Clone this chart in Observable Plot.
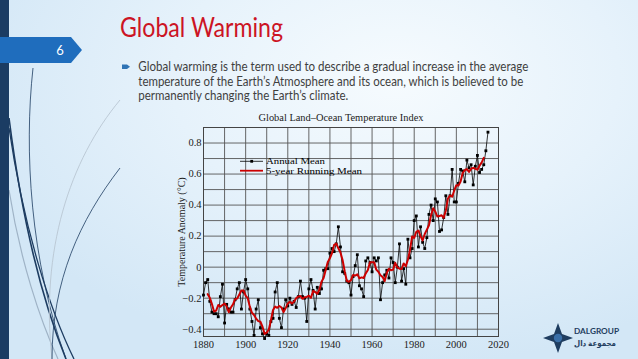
<!DOCTYPE html>
<html>
<head>
<meta charset="utf-8">
<script src="https://cdn.jsdelivr.net/npm/d3@7"></script>
<script src="https://cdn.jsdelivr.net/npm/@observablehq/plot@0.6"></script>
<style>
  html, body { margin: 0; padding: 0; }
  body { width: 638px; height: 359px; overflow: hidden; }
  #slide { position: relative; width: 638px; height: 359px; overflow: hidden;
    background: radial-gradient(ellipse 70% 80% at 62% 22%, #f6fbfe 0%, #e6f2fb 50%, #d3e7f6 100%); }
  #bg, #overlay { position: absolute; left: 0; top: 0; }
  #chart { position: absolute; left: 160px; top: 110px; }
  #overlay { pointer-events: none; }
</style>
</head>
<body>
<div id="slide">
  <svg id="bg" width="638" height="359" viewBox="0 0 638 359">
    <!-- decorative curves -->
    <path d="M33,68 C24,150 30,260 66,359" fill="none" stroke="#1d3c61" stroke-width="0.8"/>
    <path d="M9,118 C22,220 42,300 66,359" fill="none" stroke="#1d3c61" stroke-width="1.6"/>
    <path d="M9,128 C24,230 50,310 74,359" fill="none" stroke="#1d3c61" stroke-width="1.3"/>
    <path d="M9,190 C20,260 40,320 58,359" fill="none" stroke="#9fb3c6" stroke-width="1.2"/>
    <path d="M120,100 C70,160 40,250 52,359" fill="none" stroke="#b9c6d2" stroke-width="0.9"/>
    <path d="M120,168 C80,220 52,280 52,359" fill="none" stroke="#1d3c61" stroke-width="0.8"/>
    <!-- left bar -->
    <rect x="0" y="0" width="9" height="359" fill="#1b3c63"/>
    <!-- page tab -->
    <polygon points="0,37 71,37 82,50 71,63 0,63" fill="#1f6dbd"/>
    <text x="60" y="54.5" fill="#ffffff" font-family="Lato, 'Open Sans', sans-serif" font-size="13" text-anchor="middle">6</text>
    <!-- title -->
    <text x="120" y="37.3" fill="#cc1424" font-family="Lato, 'Open Sans', sans-serif" font-size="26" textLength="163" lengthAdjust="spacingAndGlyphs">Global Warming</text>
    <!-- bullet -->
    <polygon points="122,64.5 127,64.5 130,66.8 127,69 122,69" fill="#2f74b5"/>
    <g fill="#3f3f3f" font-family="Lato, 'Open Sans', sans-serif" font-size="12.5">
      <text x="138.3" y="70.8" textLength="390" lengthAdjust="spacingAndGlyphs">Global warming is the term used to describe a gradual increase in the average</text>
      <text x="138.3" y="85.6" textLength="385" lengthAdjust="spacingAndGlyphs">temperature of the Earth’s Atmosphere and its ocean, which is believed to be</text>
      <text x="138.3" y="100" textLength="210" lengthAdjust="spacingAndGlyphs">permanently changing the Earth’s climate.</text>
    </g>
    <!-- logo -->
    <g fill="#1f3d60">
      <polygon points="558,323 562,334 573,338 562,342 558,353 554,342 543,338 554,334"/>
      <circle cx="558" cy="338" r="4.2" fill="#3a6fa8"/>
      <text x="574" y="333.5" font-family="Lato, 'Open Sans', sans-serif" font-size="8" font-weight="bold" textLength="45" lengthAdjust="spacingAndGlyphs">DALGROUP</text>
      <text x="574" y="346" font-family="'Noto Sans', 'DejaVu Sans', sans-serif" font-size="8" font-weight="bold" textLength="42" lengthAdjust="spacingAndGlyphs">مجموعة دال</text>
    </g>
  </svg>
  <div id="chart"></div>
  <svg id="overlay" width="638" height="359" viewBox="0 0 638 359">
    <text x="341" y="121" fill="#222" font-family="'Liberation Serif', serif" font-size="10.5" text-anchor="middle" textLength="165" lengthAdjust="spacingAndGlyphs">Global Land–Ocean Temperature Index</text>
    <line x1="240" y1="161.3" x2="263" y2="161.3" stroke="#000" stroke-width="0.8"/>
    <rect x="250.3" y="159.9" width="2.8" height="2.8" fill="#000"/>
    <text x="266" y="164.3" fill="#000" font-family="'Liberation Serif', serif" font-size="9" textLength="59" lengthAdjust="spacingAndGlyphs">Annual Mean</text>
    <line x1="240" y1="170.7" x2="263" y2="170.7" stroke="#cc0000" stroke-width="1.8"/>
    <text x="266" y="173.6" fill="#000" font-family="'Liberation Serif', serif" font-size="9" textLength="96" lengthAdjust="spacingAndGlyphs">5-year Running Mean</text>
  </svg>
</div>
<script>
// ---- data ----
const years = [
  1880,1881,1882,1883,1884,1885,1886,1887,1888,1889,
  1890,1891,1892,1893,1894,1895,1896,1897,1898,1899,
  1900,1901,1902,1903,1904,1905,1906,1907,1908,1909,
  1910,1911,1912,1913,1914,1915,1916,1917,1918,1919,
  1920,1921,1922,1923,1924,1925,1926,1927,1928,1929,
  1930,1931,1932,1933,1934,1935,1936,1937,1938,1939,
  1940,1941,1942,1943,1944,1945,1946,1947,1948,1949,
  1950,1951,1952,1953,1954,1955,1956,1957,1958,1959,
  1960,1961,1962,1963,1964,1965,1966,1967,1968,1969,
  1970,1971,1972,1973,1974,1975,1976,1977,1978,1979,
  1980,1981,1982,1983,1984,1985,1986,1987,1988,1989,
  1990,1991,1992,1993,1994,1995,1996,1997,1998,1999,
  2000,2001,2002,2003,2004,2005,2006,2007,2008,2009,
  2010,2011,2012,2013,2014,2015
];
const annualMean = [
  -0.18,-0.10,-0.08,-0.22,-0.29,-0.30,-0.30,-0.32,-0.19,-0.11,
  -0.36,-0.24,-0.27,-0.29,-0.29,-0.21,-0.14,-0.10,-0.27,-0.16,
  -0.08,-0.14,-0.27,-0.35,-0.44,-0.27,-0.21,-0.39,-0.43,-0.46,
  -0.43,-0.44,-0.35,-0.33,-0.16,-0.10,-0.33,-0.39,-0.27,-0.21,
  -0.25,-0.20,-0.24,-0.22,-0.26,-0.19,-0.09,-0.19,-0.20,-0.35,
  -0.14,-0.08,-0.15,-0.27,-0.13,-0.17,-0.14,-0.02,-0.01,-0.01,
   0.09, 0.12, 0.10, 0.15, 0.26, 0.13,-0.03,-0.04,-0.09,-0.10,
  -0.18,-0.06, 0.01, 0.08,-0.12,-0.14,-0.19, 0.04, 0.06, 0.03,
  -0.03, 0.06, 0.04, 0.06,-0.21,-0.10,-0.05,-0.02,-0.07, 0.06,
   0.03,-0.10, 0.00, 0.15,-0.09,-0.01,-0.11, 0.18, 0.06, 0.12,
   0.30, 0.33, 0.13, 0.26, 0.16, 0.12, 0.19, 0.34, 0.40, 0.30,
   0.44, 0.42, 0.23, 0.24, 0.32, 0.46, 0.34, 0.46, 0.63, 0.42,
   0.42, 0.54, 0.63, 0.62, 0.55, 0.69, 0.64, 0.66, 0.53, 0.65,
   0.72, 0.61, 0.63, 0.66, 0.75, 0.87
];
const xTickLabels = [1880, 1900, 1920, 1940, 1960, 1980, 2000, 2020];
const yTickLabels = [-0.4, -0.2, 0, 0.2, 0.4, 0.6, 0.8];
const xGridLines = [1890, 1900, 1910, 1920, 1930, 1940, 1950, 1960, 1970, 1980, 1990, 2000, 2010];
const yGridLines = [-0.4, -0.3, -0.2, -0.1, 0, 0.1, 0.2, 0.3, 0.4, 0.5, 0.6, 0.7, 0.8];

const data = years.map((year, i) => ({year, value: annualMean[i]}));

const fmtY = d => d === 0 ? "0" : (d < 0 ? "\u2212" : "") + Math.abs(d).toFixed(1);

const chart = Plot.plot({
  width: 350,
  height: 245,
  marginLeft: 43,
  marginRight: 12,
  marginTop: 17,
  marginBottom: 19,
  style: {background: "transparent", fontFamily: "'Liberation Serif', serif", fontSize: "10.5px", color: "#222", overflow: "visible"},
  x: {domain: [1880, 2020], label: null},
  y: {domain: [-0.447, 0.9], label: null},
  marks: [
    Plot.gridX(xGridLines, {stroke: "#555", strokeOpacity: 0.9, strokeWidth: 1}),
    Plot.gridY(yGridLines, {stroke: "#555", strokeOpacity: 0.9, strokeWidth: 1}),
    Plot.frame({stroke: "#444", strokeWidth: 1}),
    Plot.axisX(xTickLabels, {tickSize: 0, tickPadding: 4, tickFormat: d => String(d), label: null}),
    Plot.axisY(yTickLabels, {tickSize: 0, tickPadding: 2, tickFormat: fmtY, label: null}),
    Plot.text(["Temperature Anomaly (°C)"], {frameAnchor: "left", textAnchor: "middle", rotate: -90, dx: -22, text: d => d, fontSize: 10, fill: "#222"}),
    Plot.line(data, {x: "year", y: "value", stroke: "#000", strokeWidth: 0.8}),
    Plot.dot(data, {x: "year", y: "value", symbol: "square", r: 1.6, fill: "#000", stroke: "none"}),
    Plot.line(data, Plot.windowY({k: 5, anchor: "middle", reduce: "mean", strict: true}, {x: "year", y: "value", stroke: "#cc0000", strokeWidth: 2}))
  ]
});
document.getElementById("chart").appendChild(chart);
</script>
</body>
</html>
